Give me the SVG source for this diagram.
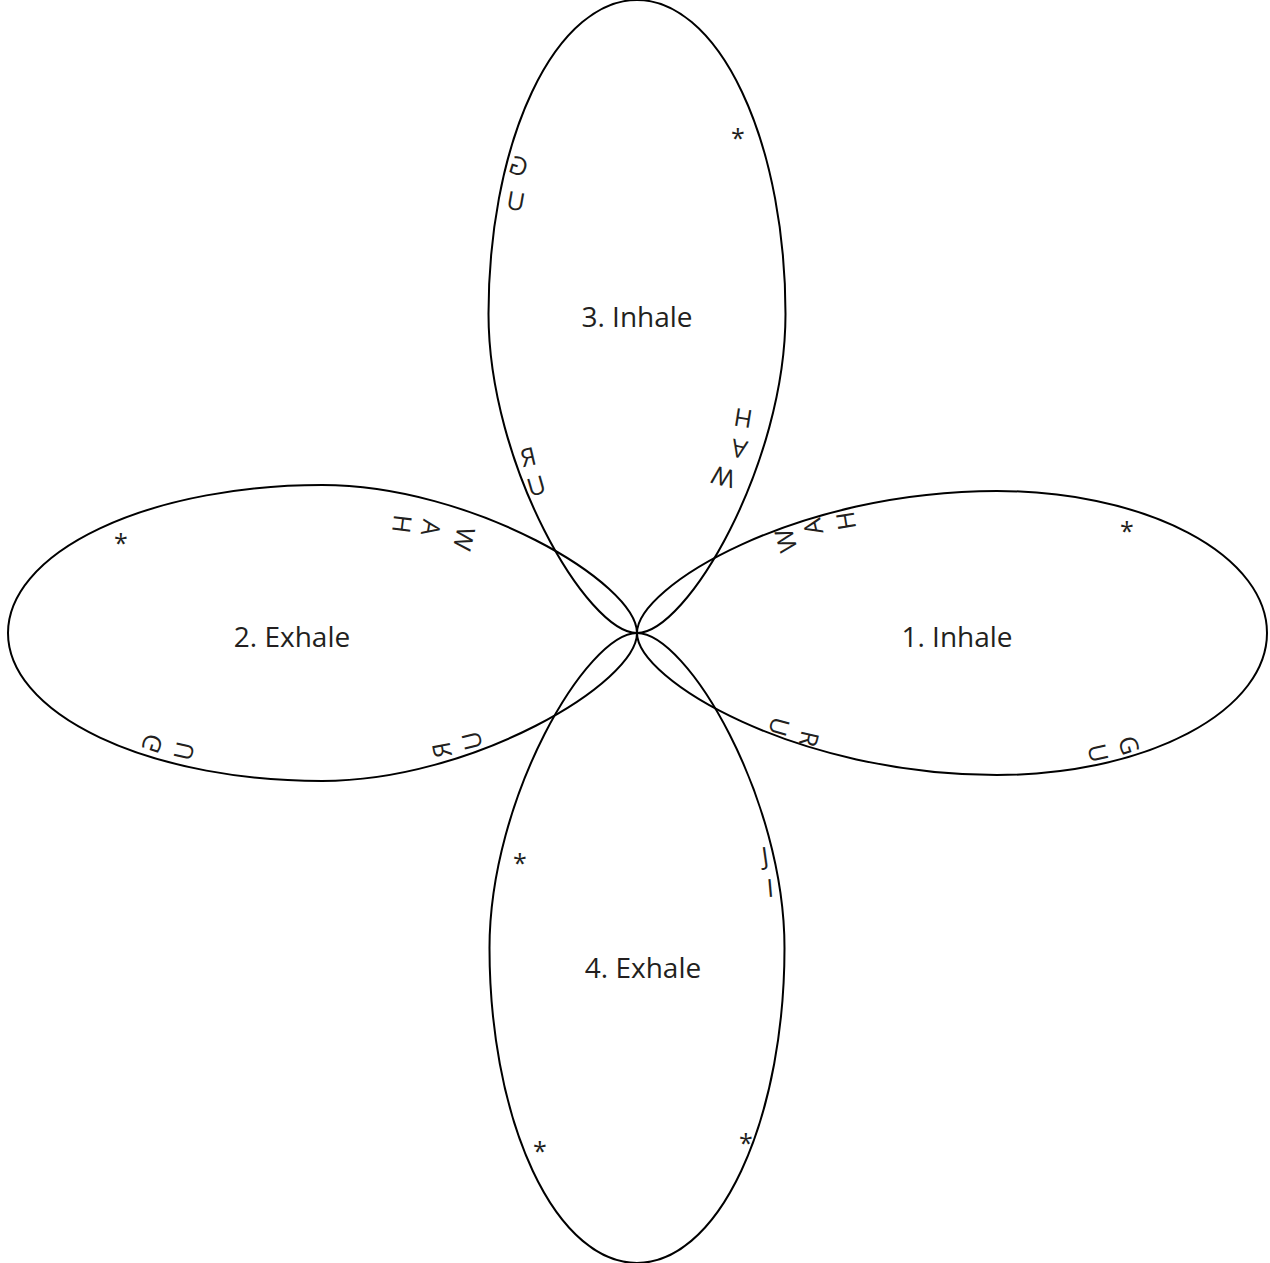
<svg xmlns="http://www.w3.org/2000/svg" width="1270" height="1263" viewBox="0 0 1270 1263">
<style>
.p{fill:none;stroke:#000;stroke-width:2}
.l{font-family:"Open Sans","Noto Sans",sans-serif;font-size:28px;fill:#231f20;text-anchor:middle;dominant-baseline:central}
.c{font-family:"Open Sans","Noto Sans",sans-serif;font-size:25px;fill:#231f20;text-anchor:middle;dominant-baseline:central}
</style>
<rect width="1270" height="1263" fill="#fff"/>
<g id="petal-1">
<path class="p" transform="translate(637,633)" d="M0,0 C0,-47 160,-142 360,-142 A270,142 0 0 1 360,142 C160,142 0,47 0,0Z"/>
<text class="l" x="957" y="636">1. Inhale</text>
<text class="c" transform="translate(785,541) rotate(-106)">W</text>
<text class="c" transform="translate(812,527) rotate(-103)">A</text>
<text class="c" transform="translate(845,521) rotate(-99)">H</text>
<text class="c" transform="translate(1127,530)">*</text>
<text class="c" transform="translate(780,727) rotate(106)">U</text>
<text class="c" transform="translate(810,739) rotate(103)">R</text>
<text class="c" transform="translate(1099,753) rotate(77)">U</text>
<text class="c" transform="translate(1130,745) rotate(73)">G</text>
</g>
<g id="petal-2">
<path class="p" transform="translate(637,633) rotate(180)" d="M0,0 C0,-50 165,-148 315,-148 A314,148 0 0 1 315,148 C165,148 0,50 0,0Z"/>
<text class="l" x="292" y="636">2. Exhale</text>
<text class="c" transform="translate(121,542)">*</text>
<text class="c" transform="translate(403,524) rotate(97) scale(-1,1)">H</text>
<text class="c" transform="translate(432,528) rotate(100) scale(-1,1)">A</text>
<text class="c" transform="translate(465,539) rotate(103) scale(-1,1)">W</text>
<text class="c" transform="translate(151,743) rotate(-73) scale(-1,1)">G</text>
<text class="c" transform="translate(183,751) rotate(-77) scale(-1,1)">U</text>
<text class="c" transform="translate(441,750) rotate(-101) scale(-1,1)">R</text>
<text class="c" transform="translate(471,741) rotate(-104) scale(-1,1)">U</text>
</g>
<g id="petal-3">
<path class="p" transform="translate(637,633) rotate(-90)" d="M0,0 C0,-50 169,-148.5 319,-148.5 A314,148.5 0 0 1 319,148.5 C169,148.5 0,50 0,0Z"/>
<text class="l" x="637" y="316">3. Inhale</text>
<text class="c" transform="translate(738,137)">*</text>
<text class="c" transform="translate(519,165) rotate(17) scale(-1,1)">G</text>
<text class="c" transform="translate(516,200) rotate(10) scale(-1,1)">U</text>
<text class="c" transform="translate(528,456) rotate(-13) scale(-1,1)">R</text>
<text class="c" transform="translate(536,485) rotate(-16) scale(-1,1)">U</text>
<text class="c" transform="translate(743,419) rotate(189) scale(-1,1)">H</text>
<text class="c" transform="translate(739,450) rotate(192) scale(-1,1)">A</text>
<text class="c" transform="translate(723,478) rotate(195) scale(-1,1)">W</text>
</g>
<g id="petal-4">
<path class="p" transform="translate(637,633) rotate(90)" d="M0,0 C0,-50 165,-147.5 315,-147.5 A315,147.5 0 0 1 315,147.5 C165,147.5 0,50 0,0Z"/>
<text class="l" x="643" y="967">4. Exhale</text>
<text class="c" transform="translate(520,862)">*</text>
<text class="c" transform="translate(540,1150)">*</text>
<text class="c" transform="translate(746,1142)">*</text>
<text class="c" transform="translate(765,855) rotate(-8)">J</text>
<text class="c" transform="translate(770,887) rotate(-5)">I</text>
</g>
<g id="connectors"/>
</svg>
